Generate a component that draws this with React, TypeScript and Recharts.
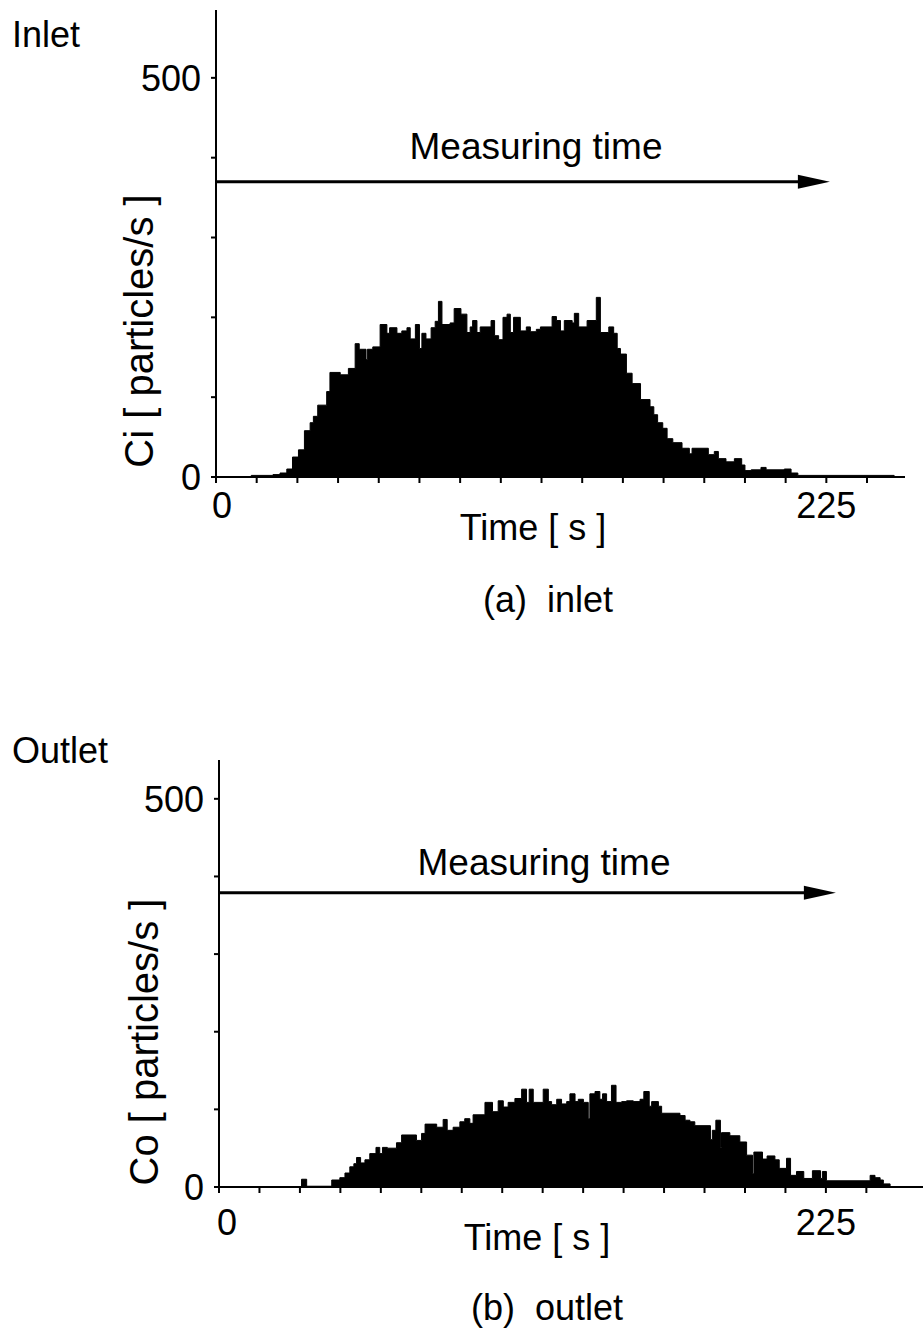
import { AreaChart, Area, XAxis, YAxis, ReferenceLine } from 'recharts'

// inlet histogram: bin start time [s] and count [particles/s]
const inletTime = [
  0, 13, 21, 23.6, 26.1, 28.2, 30.4, 32.6, 34.7, 35.9, 37.5, 40.8, 42, 45.8, 48.8, 51.3, 52.8, 55.3, 55.8, 57.8,
  60.5, 63, 64, 66.7, 68.5, 70.4, 71.6, 73.5, 75, 75.9, 77.4, 79.3, 80.8, 82, 83.3, 86.3, 87.8, 90.3, 92.5, 93.7,
  94.6, 96.2, 97.4, 101.4, 102.7, 104.2, 105.8, 107.3, 108.5, 109.7, 112.2, 114.4, 115.9, 118.1, 119.6, 123.9,
  125.5, 127, 128.4, 131.3, 132.1, 133.7, 136.8, 140.2, 141.7, 144.8, 146.6, 147.9, 149.1, 151.3, 153.4, 156.5,
  160, 161.4, 162.8, 164.7, 166.3, 168.4, 171.8, 174.5, 175.5, 181.5, 183.7, 185.2, 188, 191.1, 193.8, 195,
  197.3, 200.9, 202.8, 209.5, 212, 214.5, 250,
]
const inletCount = [
  0, 2, 3, 5, 10, 25, 34, 58, 68, 76, 90, 107, 131, 128, 136, 167, 160, 147, 160, 163,
  191, 180, 187, 180, 183, 187, 173, 191, 161, 180, 173, 187, 195, 220, 191, 193, 211, 204, 181, 188,
  196, 181, 188, 196, 177, 172, 200, 204, 181, 200, 183, 188, 182, 185, 188, 201,
  196, 183, 196, 193, 205, 188, 196, 225, 181, 188, 180, 161, 154, 130, 117, 97,
  88, 78, 68, 61, 48, 43, 36, 29, 36, 28, 32, 23, 19, 23, 15, 8,
  9, 12, 9, 10, 5, 2, 0,
]

// outlet histogram
const outletTime = [
  0, 30.6, 32.5, 41.8, 44.8, 46.7, 48.5, 50, 51, 52.5, 54.1, 55.9, 58.2, 59.6, 60.6, 62.4, 65.8, 67.7, 73.2, 75.1,
  76.4, 80.7, 83.1, 84.6, 86.8, 89.3, 91.1, 93, 94.2, 98.6, 101.4, 103.5, 105.4, 107.2, 109.7, 112.2, 114, 115,
  116.5, 120.2, 122.1, 123.3, 125.2, 127, 128.9, 130.1, 132, 133.2, 135.1, 136.9, 137.5, 139.4, 141.2, 142.2,
  143.7, 145.5, 147.2, 149.3, 151.1, 153.6, 156.1, 157.5, 159.5, 160.4, 162.9, 164.1, 170.9, 172.8, 174.6, 176.4,
  182.2, 182.9, 184.2, 185.9, 186.3, 189.4, 193.1, 195.6, 197.8, 198.3, 201.5, 203.2, 206.1, 207.7, 210.4, 211.9,
  214.1, 216.8, 220, 223, 223.7, 225.2, 241.4, 243.2, 245.1, 246.3, 248.8,
]
const outletCount = [
  0, 10, 1, 9, 12, 18, 26, 30, 38, 31, 35, 43, 51, 43, 51, 50, 57, 67, 60, 69,
  81, 77, 87, 73, 77, 84, 88, 82, 93, 109, 97, 111, 103, 109, 114, 126, 109, 126,
  109, 126, 110, 106, 113, 107, 110, 120, 110, 113, 109, 88, 120, 123, 113, 120,
  110, 131, 109, 110, 111, 110, 113, 123, 104, 110, 104, 95, 92, 86, 84, 79,
  61, 73, 86, 51, 70, 66, 58, 41, 17, 45, 36, 40, 35, 24, 37, 15,
  20, 11, 21, 11, 20, 8, 15, 12, 9, 4, 0,
]

const timeTicks = [0, 15, 30, 45, 60, 75, 90, 105, 120, 135, 150, 165, 180, 195, 210, 225, 240]
const countTicks = [0, 100, 200, 300, 400, 500]
const timeLabels = [0, 225]
const countLabels = [0, 500]

const font = '"Liberation Sans", Arial, Helvetica, sans-serif'

const inletData = inletTime.map((t, i) => ({ t, count: inletCount[i] }))
const outletData = outletTime.map((t, i) => ({ t, count: outletCount[i] }))

const arrow = (p: any) => {
  const { x1, y1, x2 } = p
  return (
    <g>
      <line x1={x1} y1={y1} x2={x2 - 24} y2={y1} stroke="#000" strokeWidth={3} />
      <polygon points={`${x2},${y1} ${x2 - 32},${y1 - 7} ${x2 - 32},${y1 + 7}`} fill="#000" />
    </g>
  )
}

// x tick label, the "0" sits a little right of its tick in the original
const TimeTick = (p: any) => {
  const { x, y, payload, zeroShift } = p
  if (!timeLabels.includes(payload.value)) return <g />
  return (
    <text x={x + (payload.value === 0 ? zeroShift : 0)} y={y} dy="0.71em" textAnchor="middle"
      fontSize={36} fill="#000" fontFamily={font}>
      {payload.value}
    </text>
  )
}

function Histogram(props: {
  data: { t: number; count: number }[]
  top: number
  left: number
  right: number
  bottom: number
  xMax: number
  yMax: number
  arrowY: number
  arrowEnd: number
  labelGap: number
  zeroShift: number
}) {
  const { data, top, left, right, bottom, xMax, yMax, arrowY, arrowEnd, labelGap, zeroShift } = props
  return (
    <AreaChart width={924} height={640} data={data} margin={{ top, right, left, bottom }}>
      <XAxis
        dataKey="t"
        type="number"
        domain={[0, xMax]}
        ticks={timeTicks}
        tick={(p: any) => <TimeTick {...p} zeroShift={zeroShift} />}
        tickSize={6}
        tickMargin={labelGap}
        height={40}
        stroke="#000"
        strokeWidth={2}
        allowDataOverflow
      />
      <YAxis
        type="number"
        domain={[0, yMax]}
        ticks={countTicks}
        tickFormatter={v => (countLabels.includes(v) ? String(v) : '')}
        tick={{ fontSize: 36, fill: '#000', fontFamily: font }}
        tickSize={5}
        tickMargin={10}
        width={60}
        stroke="#000"
        strokeWidth={2}
        allowDataOverflow
      />
      <Area
        type="stepAfter"
        dataKey="count"
        stroke="#000"
        strokeWidth={1}
        fill="#000"
        fillOpacity={1}
        dot={false}
        activeDot={false}
        isAnimationActive={false}
      />
      <ReferenceLine
        segment={[{ x: 0, y: arrowY }, { x: arrowEnd, y: arrowY }]}
        shape={arrow}
        ifOverflow="visible"
      />
    </AreaChart>
  )
}

export default function App() {
  const txt = { fontFamily: font, fontSize: 36, fill: '#000' }
  return (
    <div style={{ position: 'absolute', left: 0, top: 0, width: 924, height: 1334, background: '#fff' }}>
      <div style={{ position: 'absolute', left: 0, top: 0 }}>
        <Histogram data={inletData} top={10} left={156} right={19} bottom={123} xMax={254} yMax={585}
          arrowY={370} arrowEnd={226.3} labelGap={9} zeroShift={6} />
      </div>
      <div style={{ position: 'absolute', left: 0, top: 700 }}>
        <Histogram data={outletData} top={60} left={159} right={1} bottom={113} xMax={261} yMax={550}
          arrowY={379} arrowEnd={228.7} labelGap={16} zeroShift={8} />
      </div>
      <svg width={924} height={1334} style={{ position: 'absolute', left: 0, top: 0, pointerEvents: 'none' }}>
        <text x={12} y={47} {...txt}>Inlet</text>
        <text x={536} y={159} textAnchor="middle" {...txt} fontSize={37}>Measuring time</text>
        <text x={533} y={540} textAnchor="middle" {...txt}>Time [ s ]</text>
        <text x={548} y={612} textAnchor="middle" {...txt}>(a)&#160;&#160;inlet</text>
        <text transform="translate(153,331) rotate(-90)" textAnchor="middle" {...txt} fontSize={40}>Ci [ particles/s ]</text>

        <text x={12} y={763} {...txt}>Outlet</text>
        <text x={544} y={875} textAnchor="middle" {...txt} fontSize={37}>Measuring time</text>
        <text x={537} y={1250} textAnchor="middle" {...txt}>Time [ s ]</text>
        <text x={547} y={1320} textAnchor="middle" {...txt}>(b)&#160;&#160;outlet</text>
        <text transform="translate(158,1042) rotate(-90)" textAnchor="middle" {...txt} fontSize={40}>Co [ particles/s ]</text>
      </svg>
    </div>
  )
}
